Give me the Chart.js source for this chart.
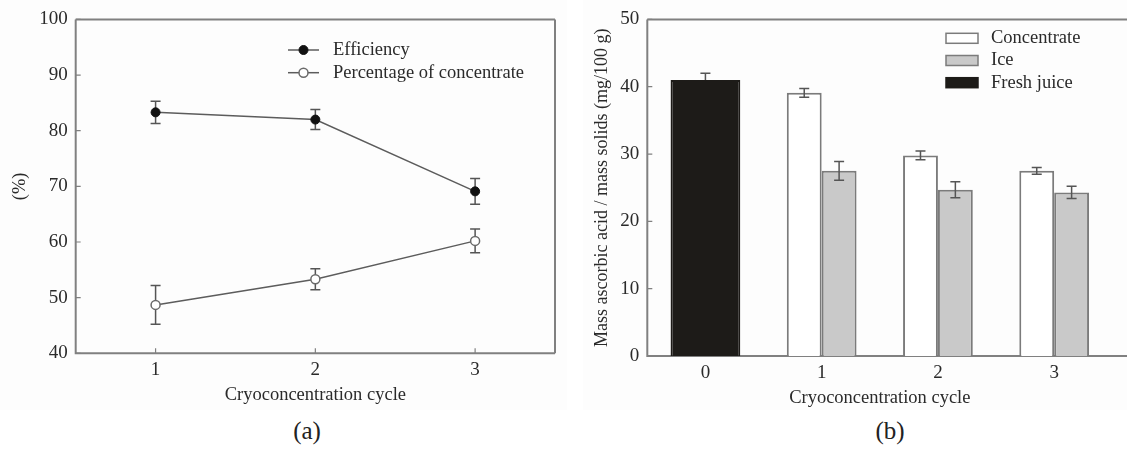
<!DOCTYPE html>
<html>
<head>
<meta charset="utf-8">
<script src="https://cdn.jsdelivr.net/npm/chart.js@4.4.1/dist/chart.umd.min.js"></script>
<style>
  body { margin: 0; background: #fff; width: 1127px; height: 450px; overflow: hidden; position: relative; font-family: "Liberation Serif", serif; }
  .panel { position: absolute; top: 0; height: 410px; background: #fdfdfd; }
  #pa { left: 0; width: 567px; }
  #pb { left: 583px; width: 544px; }
  .cap { position: absolute; top: 417px; width: 60px; text-align: center; font-size: 25px; color: #222; }
</style>
</head>
<body>
<div class="panel" id="pa"><canvas id="chartA" width="567" height="410"></canvas></div>
<div class="panel" id="pb"><canvas id="chartB" width="544" height="410"></canvas></div>
<div class="cap" style="left:277px">(a)</div>
<div class="cap" style="left:860px">(b)</div>
<script>
// (a) 효율 / 농축액 비율
const cycles = ["1", "2", "3"];
const efficiency = [83.3, 82.0, 69.1];
const efficiencyErr = [2.0, 1.8, 2.3];
const concPct = [48.7, 53.3, 60.2];
const concPctErr = [3.5, 1.9, 2.15];

// (b) 아스코르브산
const cyclesB = ["0", "1", "2", "3"];
const concentrate = [null, 39.1, 29.8, 27.5];
const concentrateErr = [null, 0.65, 0.65, 0.5];
const ice = [null, 27.5, 24.7, 24.3];
const iceErr = [null, 1.4, 1.2, 0.9];
const freshJuice = [41.0, null, null, null];
const freshJuiceErr = [1.0, null, null, null];

const serif = '"Liberation Serif", "Times New Roman", serif';
const textColor = "#2a2a2a";
const axisGray = "#808080";
const tickFont = { family: serif, size: 19 };
const titleFont = { family: serif, size: 18.5 };

// 테두리 + 안쪽 눈금
const frame = {
  id: "frame",
  beforeDatasetsDraw(chart, args, opts) {
    const { ctx, chartArea: a, width } = chart;
    const right = opts.open ? width : a.right;
    ctx.save();
    ctx.strokeStyle = axisGray;
    ctx.lineWidth = 2;
    ctx.beginPath();
    ctx.moveTo(a.left, a.top);
    ctx.lineTo(right, a.top);
    ctx.moveTo(a.left, a.top);
    ctx.lineTo(a.left, a.bottom);
    ctx.lineTo(right, a.bottom);
    if (!opts.open) {
      ctx.moveTo(a.right, a.top);
      ctx.lineTo(a.right, a.bottom);
    }
    ctx.stroke();
    ctx.lineWidth = 1.2;
    ctx.beginPath();
    const ys = chart.scales.y;
    ys.ticks.forEach((t) => {
      const p = ys.getPixelForValue(t.value);
      ctx.moveTo(a.left, p);
      ctx.lineTo(a.left + 5, p);
    });
    if (opts.xTicks) {
      const xs = chart.scales.x;
      xs.ticks.forEach((t, i) => {
        const p = xs.getPixelForTick(i);
        ctx.moveTo(p, a.bottom);
        ctx.lineTo(p, a.bottom - 5);
      });
    }
    ctx.stroke();
    ctx.restore();
  },
};

const drawErrors = (chart) => {
  const ctx = chart.ctx;
  const y = chart.scales.y;
  chart.data.datasets.forEach((ds, i) => {
    if (!ds.err) return;
    chart.getDatasetMeta(i).data.forEach((el, j) => {
      const v = ds.data[j];
      const e = ds.err[j];
      if (v == null || e == null) return;
      const x = el.x;
      const top = y.getPixelForValue(v + e);
      const bot = ds.errUpOnly ? el.y : y.getPixelForValue(v - e);
      ctx.save();
      ctx.strokeStyle = "#555";
      ctx.lineWidth = 1.5;
      ctx.beginPath();
      ctx.moveTo(x, top);
      ctx.lineTo(x, bot);
      ctx.moveTo(x - 5, top);
      ctx.lineTo(x + 5, top);
      if (!ds.errUpOnly) {
        ctx.moveTo(x - 5, bot);
        ctx.lineTo(x + 5, bot);
      }
      ctx.stroke();
      ctx.restore();
    });
  });
};

const errorBars = {
  id: "errorBars",
  beforeDatasetsDraw(chart, args, opts) {
    if (opts.before) drawErrors(chart);
  },
  afterDatasetsDraw(chart, args, opts) {
    if (!opts.before) drawErrors(chart);
  },
};

// 범례 (선 + 점)
const lineLegend = {
  id: "lineLegend",
  afterDraw(chart, args, opts) {
    const ctx = chart.ctx;
    chart.data.datasets.forEach((ds, i) => {
      const y = opts.y + i * opts.gap;
      ctx.save();
      ctx.strokeStyle = ds.borderColor;
      ctx.lineWidth = ds.borderWidth;
      ctx.beginPath();
      ctx.moveTo(opts.x, y);
      ctx.lineTo(opts.x + 31, y);
      ctx.stroke();
      ctx.beginPath();
      ctx.arc(opts.x + 15.5, y, ds.pointRadius, 0, Math.PI * 2);
      ctx.fillStyle = ds.pointBackgroundColor;
      ctx.fill();
      ctx.lineWidth = ds.pointBorderWidth;
      ctx.strokeStyle = ds.pointBorderColor;
      ctx.stroke();
      ctx.fillStyle = textColor;
      ctx.font = `18.5px ${serif}`;
      ctx.textBaseline = "middle";
      ctx.fillText(ds.label, opts.x + 45, y);
      ctx.restore();
    });
  },
};

// 범례 (박스)
const boxLegend = {
  id: "boxLegend",
  afterDraw(chart, args, opts) {
    const ctx = chart.ctx;
    chart.data.datasets.forEach((ds, i) => {
      const y = opts.y + i * opts.gap;
      ctx.save();
      ctx.fillStyle = ds.backgroundColor;
      ctx.fillRect(opts.x, y - 5, 32, 10);
      ctx.strokeStyle = ds.borderColor;
      ctx.lineWidth = 1.5;
      ctx.strokeRect(opts.x, y - 5, 32, 10);
      ctx.fillStyle = textColor;
      ctx.font = `18.5px ${serif}`;
      ctx.textBaseline = "middle";
      ctx.fillText(ds.label, opts.x + 45, y);
      ctx.restore();
    });
  },
};

new Chart(document.getElementById("chartA"), {
  type: "line",
  data: {
    labels: cycles,
    datasets: [
      {
        label: "Efficiency",
        data: efficiency,
        err: efficiencyErr,
        borderColor: "#5c5c5c",
        borderWidth: 1.5,
        pointRadius: 4.5,
        pointBackgroundColor: "#111",
        pointBorderColor: "#111",
        pointBorderWidth: 1,
      },
      {
        label: "Percentage of concentrate",
        data: concPct,
        err: concPctErr,
        borderColor: "#5c5c5c",
        borderWidth: 1.5,
        pointRadius: 4.5,
        pointBackgroundColor: "#fff",
        pointBorderColor: "#6a6a6a",
        pointBorderWidth: 1.5,
      },
    ],
  },
  options: {
    responsive: false,
    animation: false,
    layout: { padding: { left: 0, top: 19, right: 12, bottom: 0 } },
    plugins: {
      legend: { display: false },
      tooltip: { enabled: false },
      errorBars: { before: true },
      frame: { xTicks: true },
      lineLegend: { x: 288, y: 50, gap: 22.7 },
    },
    scales: {
      x: {
        offset: true,
        grid: { display: false, drawTicks: false },
        border: { display: false },
        ticks: { font: tickFont, color: textColor, padding: 5, maxRotation: 0 },
        title: { display: true, text: "Cryoconcentration cycle", font: titleFont, color: textColor, padding: { top: 0, bottom: 4 } },
        afterFit(s) { s.height = 56.7; },
      },
      y: {
        min: 40,
        max: 100,
        grid: { display: false, drawTicks: false },
        border: { display: false },
        ticks: { stepSize: 10, font: tickFont, color: textColor, padding: 8 },
        title: { display: true, text: "(%)", font: titleFont, color: textColor, padding: { top: 9, bottom: 0 } },
        afterFit(s) { s.width = 75.7; },
      },
    },
  },
  plugins: [frame, errorBars, lineLegend],
});

new Chart(document.getElementById("chartB"), {
  type: "bar",
  data: {
    labels: cyclesB,
    datasets: [
      { label: "Concentrate", data: concentrate, err: concentrateErr, backgroundColor: "#fff", borderColor: "#7b7b7b", borderWidth: 2 },
      { label: "Ice", data: ice, err: iceErr, backgroundColor: "#c9c9c9", borderColor: "#7b7b7b", borderWidth: 2 },
      { label: "Fresh juice", data: freshJuice, err: freshJuiceErr, errUpOnly: true, backgroundColor: "#1d1b18", borderColor: "#1d1b18", borderWidth: 2 },
    ],
  },
  options: {
    responsive: false,
    animation: false,
    layout: { padding: { left: 0, top: 15.7, right: 14.7, bottom: 0 } },
    datasets: { bar: { skipNull: true, categoryPercentage: 0.6, barPercentage: 1 } },
    plugins: {
      legend: { display: false },
      tooltip: { enabled: false },
      errorBars: { before: false },
      frame: { open: true },
      boxLegend: { x: 363, y: 38.3, gap: 22.2 },
    },
    scales: {
      x: {
        grid: { display: false, drawTicks: false },
        border: { display: false },
        ticks: { font: tickFont, color: textColor, padding: 6, maxRotation: 0 },
        title: { display: true, text: "Cryoconcentration cycle", font: titleFont, color: textColor, padding: { top: 0, bottom: 1 } },
        afterFit(s) { s.height = 54; },
      },
      y: {
        min: 0,
        max: 50,
        grid: { display: false, drawTicks: false },
        border: { display: false },
        ticks: { stepSize: 10, font: tickFont, color: textColor, padding: 8 },
        title: { display: true, text: "Mass ascorbic acid / mass solids (mg/100 g)", font: { family: serif, size: 18 }, color: textColor, padding: { top: 8, bottom: 0 } },
        afterFit(s) { s.width = 64.3; },
      },
    },
  },
  plugins: [frame, errorBars, boxLegend],
});
</script>
</body>
</html>
